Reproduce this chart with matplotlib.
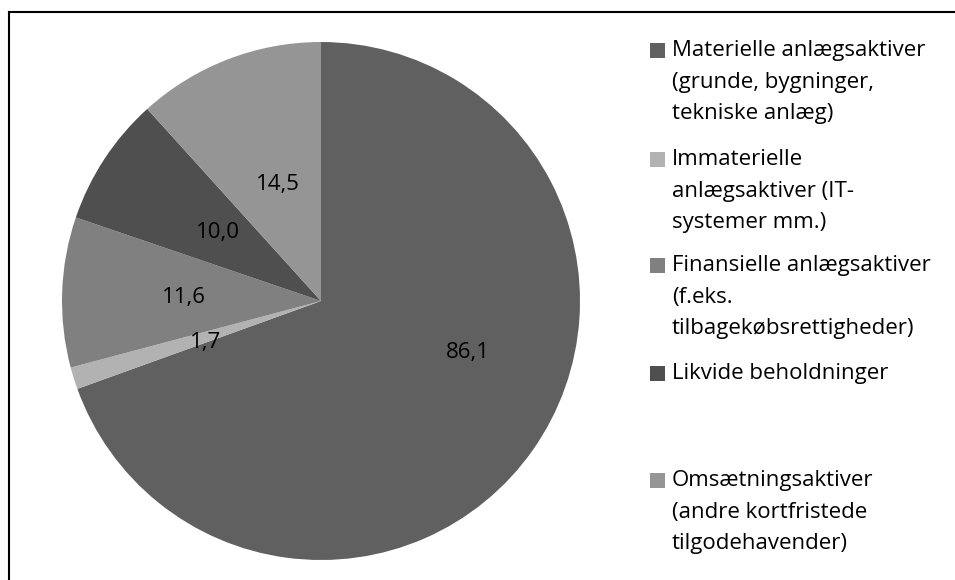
import matplotlib

matplotlib.use("Agg")
import matplotlib.pyplot as plt
from matplotlib.lines import Line2D
from matplotlib.patches import Rectangle

# Danish asset breakdown (values as shown on the slices)
categories = [
    "Materielle anlægsaktiver\n(grunde, bygninger,\ntekniske anlæg)",
    "Immaterielle\nanlægsaktiver (IT-\nsystemer mm.)",
    "Finansielle anlægsaktiver\n(f.eks.\ntilbagekøbsrettigheder)",
    "Likvide beholdninger",
    "Omsætningsaktiver\n(andre kortfristede\ntilgodehavender)",
]
values = [86.1, 1.7, 11.6, 10.0, 14.5]
value_labels = ["86,1", "1,7", "11,6", "10,0", "14,5"]
colors = ["#606060", "#b2b2b2", "#808080", "#4f4f4f", "#959595"]

# label spots inside the pie (data units, radius 1)
label_pos = [(0.568, -0.197), (-0.444, -0.162), (-0.529, 0.012),
             (-0.398, 0.263), (-0.166, 0.448)]
# centre of first legend line for each entry (figure pixels from top)
legend_y = [50, 159, 265, 373, 480]

plt.rcParams["font.family"] = ["Open Sans", "DejaVu Sans"]
W, H = 955, 580
FS = 16
fig = plt.figure(figsize=(W / 100, H / 100), dpi=100)

cx, cy, r = 321, 301, 259
ax = fig.add_axes([(cx - r) / W, (H - cy - r) / H, 2 * r / W, 2 * r / H])
ax.pie(values, colors=colors, startangle=90, counterclock=False, radius=1,
       wedgeprops=dict(linewidth=0))
ax.set_xlim(-1, 1)
ax.set_ylim(-1, 1)
ax.set_aspect("equal")
ax.axis("off")

for (x, y), txt in zip(label_pos, value_labels):
    ax.text(x, y, txt, ha="center", va="center", fontsize=FS, color="black")

# Excel-style legend built by hand so the uneven spacing matches
for name, col, yc in zip(categories, colors, legend_y):
    fig.patches.append(Rectangle((650 / W, 1 - (yc + 7.5) / H), 15 / W, 15 / H,
                                 transform=fig.transFigure, facecolor=col,
                                 edgecolor="none"))
    fig.text(672 / W, 1 - (yc - 10) / H, name, ha="left", va="top",
             fontsize=FS, linespacing=1.66, color="black")

# chart frame: only top and left edges show in the crop
fig.lines.append(Line2D([9 / W, 1], [1 - 12 / H, 1 - 12 / H],
                        transform=fig.transFigure, color="black", lw=1.5))
fig.lines.append(Line2D([9 / W, 9 / W], [0, 1 - 12 / H],
                        transform=fig.transFigure, color="black", lw=1.5))

fig.savefig("out.png", dpi=100)
